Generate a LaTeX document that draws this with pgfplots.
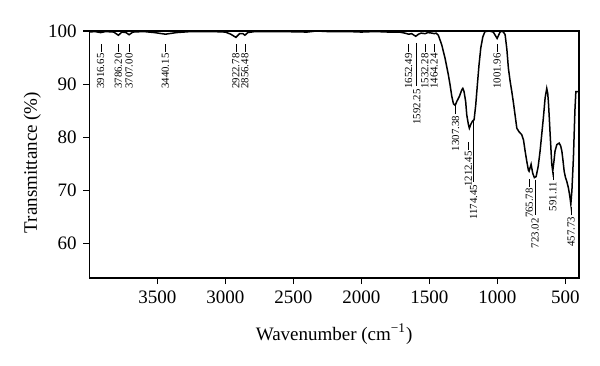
\documentclass[border=0pt]{standalone}
\usepackage{fontspec}
\setmainfont{Liberation Serif}
\usepackage{pgfplots}
\pgfplotsset{compat=1.18}
\newcommand{\dsh}{\kern0.8pt\rule[0.55ex]{4pt}{0.45pt}}
\tikzset{lbl/.style={rotate=90, anchor=east, inner sep=0.3pt, font=\fontsize{5.4}{6}\selectfont}}
\begin{document}
\fontsize{9.5}{11}\selectfont
\begin{tikzpicture}
\useasboundingbox (-44.65pt,-43.5pt) rectangle (255.35pt,139pt);
\begin{axis}[
  at={(0,0)}, anchor=south west,
  scale only axis, width=244.85pt, height=123.5pt,
  x dir=reverse, xmin=400, xmax=4000, ymin=53.5, ymax=100,
  xtick={500,1000,1500,2000,2500,3000,3500},
  ytick={60,70,80,90,100},
  xtick pos=bottom, ytick pos=left,
  tick align=outside, major tick length=3pt,
  axis line style={line width=0.75pt},
  tick style={line width=0.6pt, black},
  /pgf/number format/assume math mode=true,
  /pgf/number format/set thousands separator={},
  ticklabel style={font=\fontsize{9.5}{11}\selectfont},
  label style={font=\fontsize{9.5}{11}\selectfont},
  xlabel={Wavenumber (cm\textsuperscript{−1})},
  ylabel={Transmittance (\%)},
  xlabel style={yshift=-3.5pt},
  ylabel style={yshift=-3pt, xshift=-4pt},
  clip=false,
]
\addplot[black, line width=0.75pt] coordinates {
(4000,99.8) (3960,99.9) (3916,99.7) (3880,99.9) (3820,99.8) (3786,99.2) (3760,99.8)
(3730,99.7) (3707,99.3) (3680,99.8) (3600,99.9) (3520,99.7) (3440,99.4) (3360,99.7)
(3250,99.9) (3100,99.9) (3000,99.8) (2960,99.4) (2922,98.8) (2895,99.5) (2870,99.5)
(2856,99.2) (2835,99.7) (2780,99.9) (2600,99.9) (2400,99.8) (2330,100) (2250,99.9)
(2100,99.9) (2000,99.8) (1900,99.9) (1800,99.8) (1720,99.8) (1680,99.6) (1652,99.4)
(1630,99.5) (1600,99.0) (1580,99.4) (1560,99.6) (1532,99.5) (1510,99.7) (1480,99.6)
(1464,99.5) (1450,99.6) (1434,99.2)
(1409,97.4) (1385,94.9) (1360,91.7) (1348,89.9) (1335,87.7) (1323,86.3) (1310,86.0)
(1299,86.7) (1279,87.7) (1262,88.9) (1254,89.2) (1245,88.6) (1233,86.7) (1225,84.2)
(1213,82.4) (1206,81.7) (1196,82.4) (1184,83.0) (1171,83.3) (1159,86.1) (1147,89.9)
(1135,93.6) (1122,96.8) (1107,98.9) (1091,99.9) (1060,100) (1030,99.8) (1002,98.6)
(980,99.8) (965,100) (950,99.6) (943,99.3) (930,96.5) (919,93) (906,90.5) (894,88.6)
(882,86.5) (870,84.2) (857,81.7) (840,81.0) (821,80.5) (808,79.5) (796,77.4) (784,75.5)
(772,73.8) (767,73.6) (752,74.9) (740,73.2) (728,72.4) (715,72.6) (700,74.5) (686,77.4)
(674,80.5) (662,83.6) (649,87.4) (637,89.2) (630,88.3) (625,86.7) (618,83.5) (612,80.5)
(600,74.9) (593,73.6) (584,75.5) (576,77.4) (563,78.6) (546,78.9) (535,78.4) (526,77.4)
(517,75.5) (509,73.6) (500,72.5) (490,71.7) (478,70.5) (468,69.0) (460,67.4) (452,70)
(441,76.1) (430,85) (423,88.6) (404,88.6) (400,88.6)
};
\node[lbl] at (axis cs:3916.65,97.75) {3916.65\dsh};
\node[lbl] at (axis cs:3786.20,97.75) {3786.20\dsh};
\node[lbl] at (axis cs:3707.00,97.75) {3707.00\dsh};
\node[lbl] at (axis cs:3440.15,97.75) {3440.15\dsh};
\node[lbl] at (axis cs:2922.78,97.75) {2922.78\dsh};
\node[lbl] at (axis cs:2856.48,97.75) {2856.48\dsh};
\node[lbl] at (axis cs:1652.49,97.75) {1652.49\dsh};
\node[lbl] at (axis cs:1532.28,97.75) {1532.28\dsh};
\node[lbl] at (axis cs:1464.24,97.75) {1464.24\dsh};
\node[lbl] at (axis cs:1001.96,97.75) {1001.96\dsh};
\draw[line width=0.45pt] (axis cs:1592.25,97.75) -- (axis cs:1592.25,89.6);
\node[lbl] at (axis cs:1592.25,89.5) {1592.25\kern0.8pt};
\node[lbl] at (axis cs:1307.38,86.0) {1307.38\dsh};
\node[lbl] at (axis cs:1212.45,79.3) {1212.45\dsh};
\draw[line width=0.45pt] (axis cs:1174.45,83.0) -- (axis cs:1174.45,71.6);
\node[lbl] at (axis cs:1174.45,71.5) {1174.45\kern0.8pt};
\node[lbl] at (axis cs:765.78,72.4) {765.78\dsh};
\draw[line width=0.45pt] (axis cs:723.02,72.0) -- (axis cs:723.02,65.3);
\node[lbl] at (axis cs:723.02,65.2) {723.02\kern0.8pt};
\node[lbl] at (axis cs:591.11,73.6) {591.11\dsh};
\node[lbl] at (axis cs:457.73,67.0) {457.73\dsh};
\end{axis}
\end{tikzpicture}
\end{document}
